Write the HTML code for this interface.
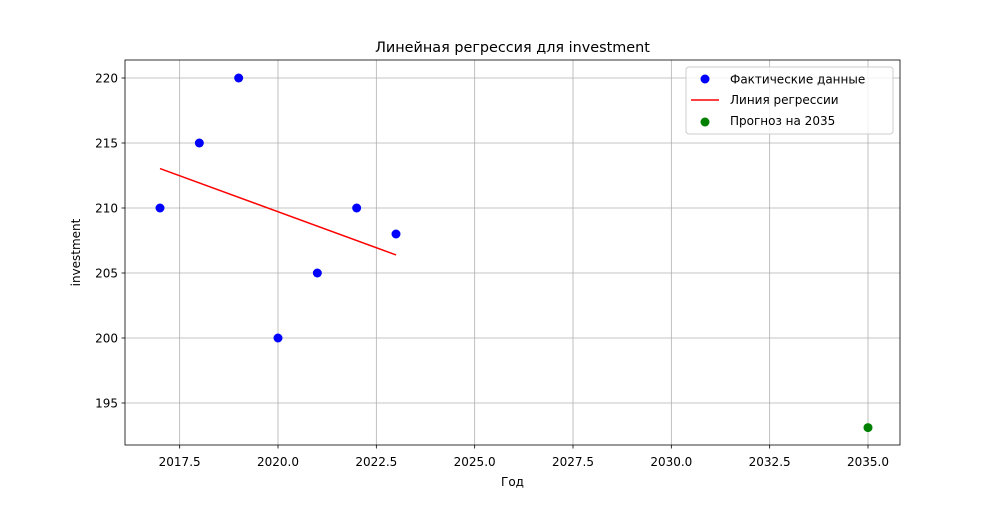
<!DOCTYPE html>
<html><head><meta charset="utf-8"><style>
body{margin:0;background:#fff;}
text{font-family:"DejaVu Sans","Liberation Sans",sans-serif;}
</style></head><body>
<svg id="chart" width="1000" height="500" xmlns="http://www.w3.org/2000/svg"></svg>
<script>
const years=[2017,2018,2019,2020,2021,2022,2023];
const values=[210,215,220,200,205,210,208];
const forecastYear=2035;
const xTicks=[2017.5,2020.0,2022.5,2025.0,2027.5,2030.0,2032.5,2035.0];
const yTicks=[195,200,205,210,215,220];

const L=125,R=900,T=60,B=445;
const x=v=>160+(v-2017)*(278-160)/3;
const y=v=>78+(220-v)*13;
const NS="http://www.w3.org/2000/svg";
const svg=document.getElementById('chart');
function mk(t,a,txt){const e=document.createElementNS(NS,t);for(const k in a)e.setAttribute(k,a[k]);if(txt!==undefined)e.textContent=txt;svg.appendChild(e);return e;}

const n=years.length;const mx=years.reduce((a,b)=>a+b)/n;const my=values.reduce((a,b)=>a+b)/n;
let sxy=0,sxx=0;for(let i=0;i<n;i++){sxy+=(years[i]-mx)*(values[i]-my);sxx+=(years[i]-mx)**2;}
const slope=sxy/sxx,inter=my-slope*mx;const pred=v=>inter+slope*v;

xTicks.forEach(t=>{const g=mk('line',{x1:x(t),x2:x(t),y1:T,y2:B,stroke:'#b0b0b0','stroke-width':0.8});

const tk=mk('line',{x1:x(t),x2:x(t),y1:B,y2:B+3.5,stroke:'#000','stroke-width':0.8});

const lb=mk('text',{x:x(t),y:B+21,'font-size':12,'text-anchor':'middle'},t.toFixed(1));
});
yTicks.forEach(t=>{const g=mk('line',{x1:L,x2:R,y1:y(t),y2:y(t),stroke:'#b0b0b0','stroke-width':0.8});

const tk=mk('line',{x1:L-3.5,x2:L,y1:y(t),y2:y(t),stroke:'#000','stroke-width':0.8});

const lb=mk('text',{x:L-7,y:y(t)+4.5,'font-size':12,'text-anchor':'end'},t);
});

const rl=mk('line',{x1:x(years[0]),y1:y(pred(years[0])),x2:x(years[n-1]),y2:y(pred(years[n-1])),stroke:'#ff0000','stroke-width':1.5});

years.forEach((yr,i)=>{const c=mk('circle',{cx:x(yr),cy:y(values[i]),r:4.5,fill:'#0000ff'});
});
const fc=mk('circle',{cx:x(forecastYear),cy:y(pred(forecastYear)),r:4.5,fill:'#008000'});


const fr=mk('rect',{x:L,y:T,width:R-L,height:B-T,fill:'none',stroke:'#000','stroke-width':0.8});


const tt=mk('text',{x:(L+R)/2,y:52,'font-size':14.4,'text-anchor':'middle'},'Линейная регрессия для investment');

const xt=mk('text',{x:(L+R)/2,y:486,'font-size':12,'text-anchor':'middle'},'Год');

const yt=mk('text',{x:80,y:(T+B)/2,'font-size':12,'text-anchor':'middle',transform:'rotate(-90 80 '+(T+B)/2+')'},'investment');


const lg=mk('rect',{x:686,y:67,width:207,height:67,fill:'#fff','fill-opacity':0.8,stroke:'#cccccc','stroke-width':1,rx:3});

const m1=mk('circle',{cx:705,cy:79,r:4.5,fill:'#0000ff'});
const t1=mk('text',{x:730,y:83.5,'font-size':12},'Фактические данные');
const m2=mk('line',{x1:691,x2:719,y1:100,y2:100,stroke:'#ff0000','stroke-width':1.5});
const t2=mk('text',{x:730,y:104,'font-size':12},'Линия регрессии');
const m3=mk('circle',{cx:705,cy:122,r:4.5,fill:'#008000'});
const t3=mk('text',{x:730,y:125,'font-size':12},'Прогноз на 2035');
</script>
</body></html>
